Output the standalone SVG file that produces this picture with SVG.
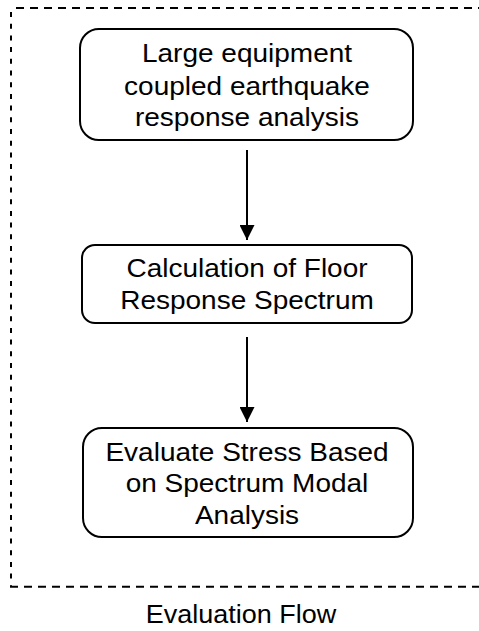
<svg xmlns="http://www.w3.org/2000/svg" width="479" height="631" viewBox="0 0 479 631">
<style>
.node rect{fill:#fff;stroke:#000;stroke-width:2}
text{font-family:"Liberation Sans",Arial,sans-serif;font-size:28px;fill:#000;text-anchor:middle}
.fh{fill:none;stroke:#000;stroke-width:2;stroke-dasharray:8 6}
.fv{fill:none;stroke:#000;stroke-width:2;stroke-dasharray:5 6.7}
.conn line{stroke:#000;stroke-width:2}
</style>
<defs>
<marker id="ah" markerWidth="15" markerHeight="15" refX="15" refY="7.5" orient="auto" markerUnits="userSpaceOnUse">
<path d="M0,0 L15,7.5 L0,15 Z" fill="#000"/>
</marker>
</defs>
<g id="frame">
<line class="fh" x1="16" y1="8" x2="479" y2="8"/>
<line class="fv" x1="11" y1="12" x2="11" y2="586"/>
<line class="fh" x1="10" y1="586.7" x2="479" y2="586.7"/>
</g>
<g id="node1" class="node">
<rect x="80" y="29" width="333" height="111" rx="19"/>
<text transform="translate(247,62) scale(1,0.92)">Large equipment</text>
<text transform="translate(247,94.5) scale(1,0.92)">coupled earthquake</text>
<text transform="translate(247,126) scale(1,0.92)">response analysis</text>
</g>
<g id="node2" class="node">
<rect x="82" y="245" width="330" height="78" rx="13"/>
<text transform="translate(247,277) scale(1,0.92)">Calculation of Floor</text>
<text transform="translate(247,308.5) scale(1,0.92)">Response Spectrum</text>
</g>
<g id="node3" class="node">
<rect x="83" y="428" width="330" height="109" rx="19"/>
<text transform="translate(247,461) scale(1,0.92)">Evaluate Stress Based</text>
<text transform="translate(247,492) scale(1,0.92)">on Spectrum Modal</text>
<text transform="translate(247,523.5) scale(1,0.92)">Analysis</text>
</g>
<g id="connectors" class="conn">
<line x1="247" y1="150" x2="247" y2="240" marker-end="url(#ah)"/>
<line x1="247" y1="337" x2="247" y2="422" marker-end="url(#ah)"/>
</g>
<g id="caption">
<text transform="translate(241,623) scale(1,0.94)" style="font-size:27px">Evaluation Flow</text>
</g>
</svg>
